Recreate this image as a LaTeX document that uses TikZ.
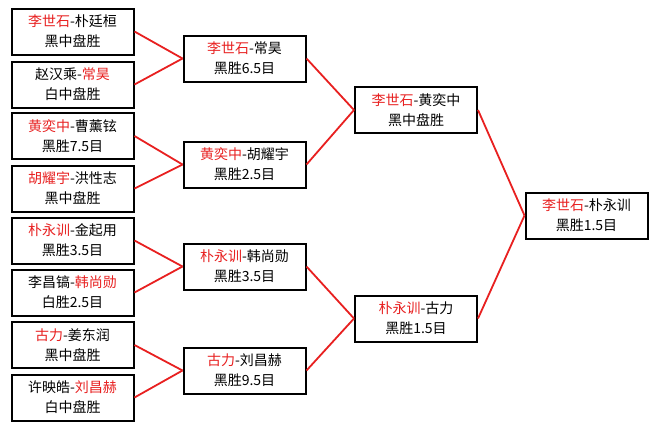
\documentclass[tikz,border=0pt]{standalone}
\usepackage{fontspec}
\newfontfamily\cjk{Noto Sans CJK SC}
\definecolor{wred}{RGB}{232,32,32}
\newcommand{\rn}[1]{\textcolor{wred}{#1}}
\begin{document}
\begin{tikzpicture}[x=1pt,y=-1pt,
  game/.style={draw=black,line width=2pt,fill=white,minimum width=122pt,minimum height=46pt,
    inner sep=0pt,align=center,font=\cjk\fontsize{14}{20}\selectfont},
  link/.style={draw=wred,line width=1.8pt}]
\useasboundingbox[fill=white] (0,0) rectangle (658,429);
% round 1
\node[game] (a1) at (72.5,31.5) {\rn{李世石}-朴廷桓\\黑中盘胜};
\node[game] (a2) at (72.5,84.5) {赵汉乘-\rn{常昊}\\白中盘胜};
\node[game] (a3) at (72.5,136) {\rn{黄奕中}-曹薰铉\\黑胜7.5目};
\node[game] (a4) at (72.5,188.5) {\rn{胡耀宇}-洪性志\\黑中盘胜};
\node[game] (a5) at (72.5,240.5) {\rn{朴永训}-金起用\\黑胜3.5目};
\node[game] (a6) at (72.5,292.5) {李昌镐-\rn{韩尚勋}\\白胜2.5目};
\node[game] (a7) at (72.5,345) {\rn{古力}-姜东润\\黑中盘胜};
\node[game] (a8) at (72.5,397.5) {许映皓-\rn{刘昌赫}\\白中盘胜};
% round 2
\node[game] (b1) at (244.5,58.5) {\rn{李世石}-常昊\\黑胜6.5目};
\node[game] (b2) at (244.5,164.5) {\rn{黄奕中}-胡耀宇\\黑胜2.5目};
\node[game] (b3) at (244.5,266.5) {\rn{朴永训}-韩尚勋\\黑胜3.5目};
\node[game] (b4) at (244.5,370.5) {\rn{古力}-刘昌赫\\黑胜9.5目};
% round 3
\node[game] (c1) at (416,110) {\rn{李世石}-黄奕中\\黑中盘胜};
\node[game] (c2) at (416,318.5) {\rn{朴永训}-古力\\黑胜1.5目};
% final
\node[game] (d) at (586.5,215.5) {\rn{李世石}-朴永训\\黑胜1.5目};
% connectors
\draw[link] (a1.east) -- (b1.west);
\draw[link] (a2.east) -- (b1.west);
\draw[link] (a3.east) -- (b2.west);
\draw[link] (a4.east) -- (b2.west);
\draw[link] (a5.east) -- (b3.west);
\draw[link] (a6.east) -- (b3.west);
\draw[link] (a7.east) -- (b4.west);
\draw[link] (a8.east) -- (b4.west);
\draw[link] (b1.east) -- (c1.west);
\draw[link] (b2.east) -- (c1.west);
\draw[link] (b3.east) -- (c2.west);
\draw[link] (b4.east) -- (c2.west);
\draw[link] (c1.east) -- (d.west);
\draw[link] (c2.east) -- (d.west);
\end{tikzpicture}
\end{document}
